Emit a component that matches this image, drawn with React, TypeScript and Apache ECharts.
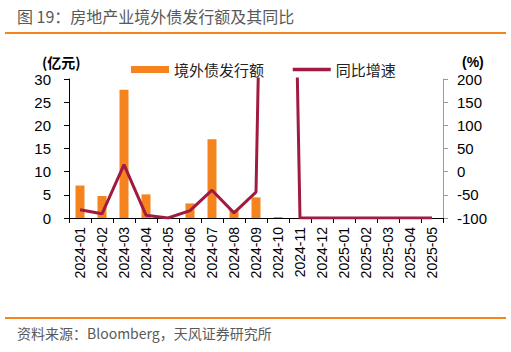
import React, { useEffect, useRef } from "react";
import * as echarts from "echarts";

const categories = [
  "2024-01", "2024-02", "2024-03", "2024-04", "2024-05", "2024-06",
  "2024-07", "2024-08", "2024-09", "2024-10", "2024-11", "2024-12",
  "2025-01", "2025-02", "2025-03", "2025-04", "2025-05",
];
const issuance = [7.0, 4.75, 27.7, 5.1, 0, 3.15, 17.0, 1.7, 4.45, 0.2, 0, 0, 0, 0, 0, 0, 0];
const yoy = [-82, -91, 15, -94, -100, -84, -40, -89, -44, 2400, -100, -100, -100, -100, -100, -100, -100];
const leftTicks = { min: 0, max: 30, interval: 5 };
const rightTicks = { min: -100, max: 200, interval: 50 };

const title = "图 19：房地产业境外债发行额及其同比";
const source = "资料来源：Bloomberg，天风证券研究所";
const barName = "境外债发行额";
const lineName = "同比增速";

const FONT = "'Liberation Sans', Arial, 'Noto Sans CJK SC', sans-serif";
const CJK = "'Noto Sans CJK SC', sans-serif";

export default function App() {
  const ref = useRef<HTMLDivElement>(null);
  useEffect(() => {
    if (!ref.current) return;
    const chart = echarts.init(ref.current, null, { renderer: "svg" });
    chart.setOption({
      animation: false,
      backgroundColor: "#ffffff",
      grid: { left: 69, right: 68, top: 79, bottom: 134, containLabel: false },
      legend: {
        left: 126,
        top: 57,
        itemWidth: 38,
        itemHeight: 7,
        itemGap: 27,
        textStyle: { fontFamily: CJK, fontSize: 15, color: "#222" },
        data: [
          { name: barName, icon: "rect" },
          { name: lineName, itemStyle: { opacity: 0 }, lineStyle: { width: 3.5, color: "#A11B40" } },
        ],
      },
      xAxis: {
        type: "category",
        data: categories,
        boundaryGap: true,
        axisLine: { show: true, lineStyle: { color: "#000", width: 1 } },
        axisTick: { show: true, alignWithLabel: false, length: 5, lineStyle: { color: "#000" } },
        axisLabel: {
          rotate: 90,
          interval: 0,
          margin: 9,
          fontFamily: FONT,
          fontSize: 14,
          color: "#000",
        },
      },
      yAxis: [
        {
          type: "value",
          ...leftTicks,
          axisLine: { show: true, lineStyle: { color: "#000" } },
          axisTick: { show: true, length: 5, lineStyle: { color: "#000" } },
          splitLine: { show: false },
          axisLabel: { fontFamily: FONT, fontSize: 15, color: "#000", margin: 18 },
        },
        {
          type: "value",
          ...rightTicks,
          position: "right",
          axisLine: { show: true, lineStyle: { color: "#9a9a9a" } },
          axisTick: { show: true, length: 5, lineStyle: { color: "#9a9a9a" } },
          splitLine: { show: false },
          axisLabel: { fontFamily: FONT, fontSize: 15, color: "#000", margin: 14 },
        },
      ],
      series: [
        {
          name: barName,
          type: "bar",
          data: issuance,
          yAxisIndex: 0,
          barWidth: 9,
          itemStyle: { color: "#F5841F" },
        },
        {
          name: lineName,
          type: "line",
          data: yoy,
          yAxisIndex: 1,
          symbol: "none",
          clip: true,
          lineStyle: { color: "#A11B40", width: 3 },
          itemStyle: { color: "#A11B40" },
        },
      ],
      graphic: [
        {
          type: "text",
          left: 17,
          top: 8,
          style: { text: title, fontFamily: CJK, fontSize: 16, fill: "#595959" },
        },
        {
          type: "rect",
          shape: { x: 5, y: 32, width: 501, height: 2 },
          style: { fill: "#F5841F" },
        },
        {
          type: "text",
          left: 42,
          top: 55,
          style: { text: "(亿元)", fontFamily: CJK, fontSize: 14, fontWeight: "bold", fill: "#000" },
        },
        {
          type: "text",
          left: 462,
          top: 55,
          style: { text: "(%)", fontFamily: FONT, fontSize: 14, fontWeight: "bold", fill: "#000" },
        },
        {
          type: "rect",
          shape: { x: 5, y: 317, width: 501, height: 2 },
          style: { fill: "#F5841F" },
        },
        {
          type: "text",
          left: 17,
          top: 326,
          style: { text: source, fontFamily: CJK, fontSize: 14, fill: "#595959" },
        },
      ],
    });
    return () => chart.dispose();
  }, []);
  return <div ref={ref} style={{ width: 511, height: 352, position: "absolute", left: 0, top: 0 }} />;
}
